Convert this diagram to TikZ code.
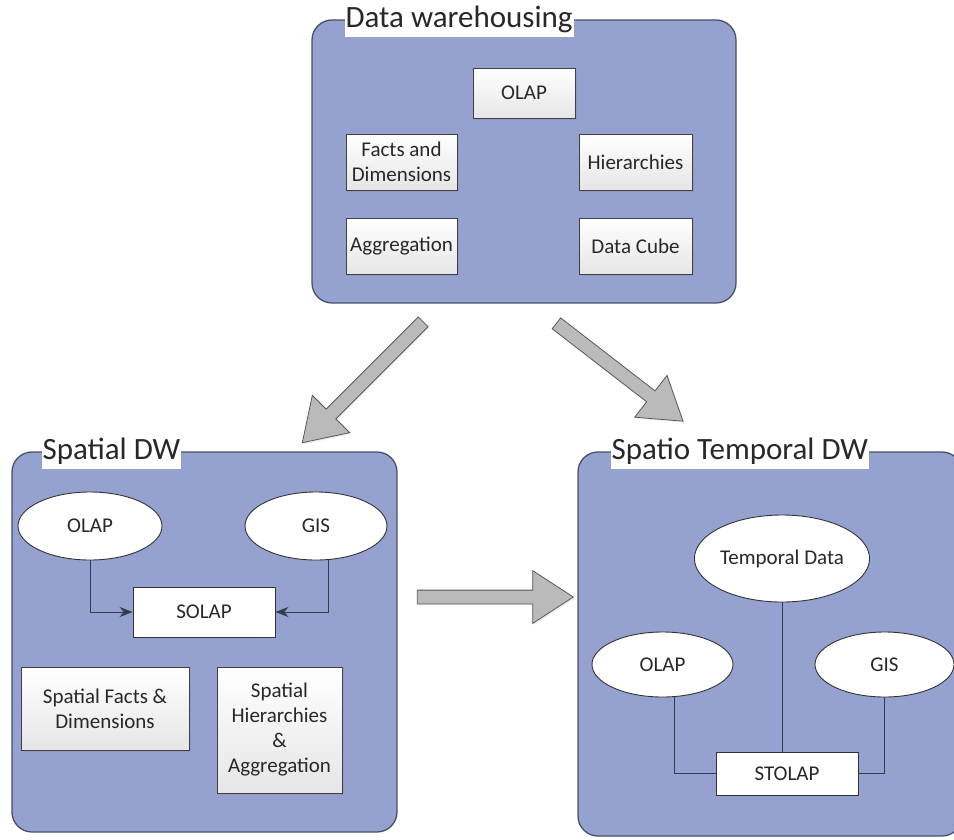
\documentclass[tikz,border=0pt]{standalone}
\usepackage{fontspec}
\setmainfont{Carlito}
\usetikzlibrary{positioning,shapes.geometric,shapes.arrows,shadows,arrows.meta}

\definecolor{panelblue}{RGB}{149,162,208}
\definecolor{paneledge}{RGB}{72,80,104}
\definecolor{arrowgray}{RGB}{186,186,186}
\definecolor{linedark}{RGB}{50,58,82}
\definecolor{textdark}{RGB}{40,40,40}

\begin{document}
\begin{tikzpicture}[x=1pt,y=-1pt]
    \tikzset{panel/.style={
        draw=paneledge, line width=1.3pt, fill=panelblue, rounded corners=20pt, inner sep=0pt
      },
      paneltitle/.style={fill=white, anchor=west, inner xsep=1pt, inner ysep=0pt,
        minimum height=36pt, text=textdark, font=\fontsize{31}{37}\selectfont},
      item/.style={draw=black!75, line width=0.9pt, top color=white, bottom color=black!10,
        inner sep=0pt, align=center, text=textdark, font=\fontsize{21}{25}\selectfont,
        drop shadow={opacity=0.2, shadow xshift=1.5pt, shadow yshift=-1.5pt}},
      plainitem/.style={draw=black!80, line width=0.9pt, fill=white, inner sep=0pt,
        text=textdark, font=\fontsize{21}{25}\selectfont},
      oval/.style={plainitem, ellipse},
      bigarrow/.style={single arrow, draw=black!65, fill=arrowgray, line width=0.8pt,
        inner sep=0pt, text height=13pt, text depth=0pt, minimum width=1pt,
        single arrow head extend=19.5pt, single arrow tip angle=66,
        drop shadow={opacity=0.15, shadow xshift=1.5pt, shadow yshift=-1.5pt}},
      link/.style={draw=linedark, line width=1pt}
    }

    \useasboundingbox (0,0) rectangle (954,839);
    \clip (0,0) rectangle (954,839);

    % data warehousing
    \node[panel, minimum width=424pt, minimum height=283pt] (dw) at (524,161.5) {};
    \node[paneltitle] (dwtitle) at ([xshift=33pt]dw.north west) {Data warehousing};

    \node[item, minimum width=102pt, minimum height=50pt] (olap) at (524,93) {OLAP};
    \node[item, minimum width=111pt, minimum height=56pt] (facts) at (401.5,162) {Facts and\\Dimensions};
    \node[item, minimum width=113pt, minimum height=56pt] (hier) at (635.5,162) {Hierarchies};
    \node[item, minimum width=111pt, minimum height=56pt] (aggr) at (401.5,246) {Aggregation};
    \node[item, minimum width=113pt, minimum height=56pt] (cube) at (635.5,246) {Data Cube};

    % block arrows
    \node[bigarrow, minimum height=171pt, rotate=225] (toSdw) at (366.5,378.5) {};
    \node[bigarrow, minimum height=160pt, rotate=-37.7] (toStdw) at (615.5,369) {};
    \node[bigarrow, minimum height=156pt] (sdwToStdw) at (490,597) {};

    % spatial DW
    \node[panel, minimum width=385pt, minimum height=380pt] (sdw) at (204.5,642) {};
    \node[paneltitle] (sdwtitle) at ([xshift=30pt]sdw.north west) {Spatial DW};

    \node[oval, minimum width=144pt, minimum height=68pt] (olapL) at (90,526) {OLAP};
    \node[oval, minimum width=142pt, minimum height=68pt] (gisL) at (316,526) {GIS};
    \node[plainitem, minimum width=142pt, minimum height=50pt] (solap) at (204,612) {SOLAP};
    \node[item, minimum width=168pt, minimum height=83pt] (sfacts) at (105,708.5) {Spatial Facts \&\\Dimensions};
    \node[item, minimum width=125pt, minimum height=126pt] (shier) at (279.5,730) {Spatial\\Hierarchies\\\&\\Aggregation};

    \draw[link, -{Stealth[length=13pt,width=10pt]}] (olapL.south) |- (solap.west);
    \draw[link, -{Stealth[length=13pt,width=10pt]}] (gisL.-70) |- (solap.east);

    % spatio temporal DW
    \node[panel, minimum width=384pt, minimum height=384pt] (stdw) at (770,644) {};
    \node[paneltitle] (stdwtitle) at ([xshift=33pt]stdw.north west) {Spatio Temporal DW};

    \node[oval, minimum width=162pt, minimum height=87pt] (tdata) at (782,558.5) {Temporal Data};
    \node[oval, minimum width=141pt, minimum height=65pt] (olapR) at (662.5,664.5) {OLAP};
    \node[oval, minimum width=139pt, minimum height=65pt] (gisR) at (884.5,664.5) {GIS};
    \node[plainitem, minimum width=142pt, minimum height=43pt] (stolap) at (787,773.5) {STOLAP};

    \draw[link] (tdata.south) -- (tdata.south |- stolap.north);
    \draw[link] (olapR.-70) |- (stolap.west);
    \draw[link] (gisR.south) |- (stolap.east);
\end{tikzpicture}
\end{document}
